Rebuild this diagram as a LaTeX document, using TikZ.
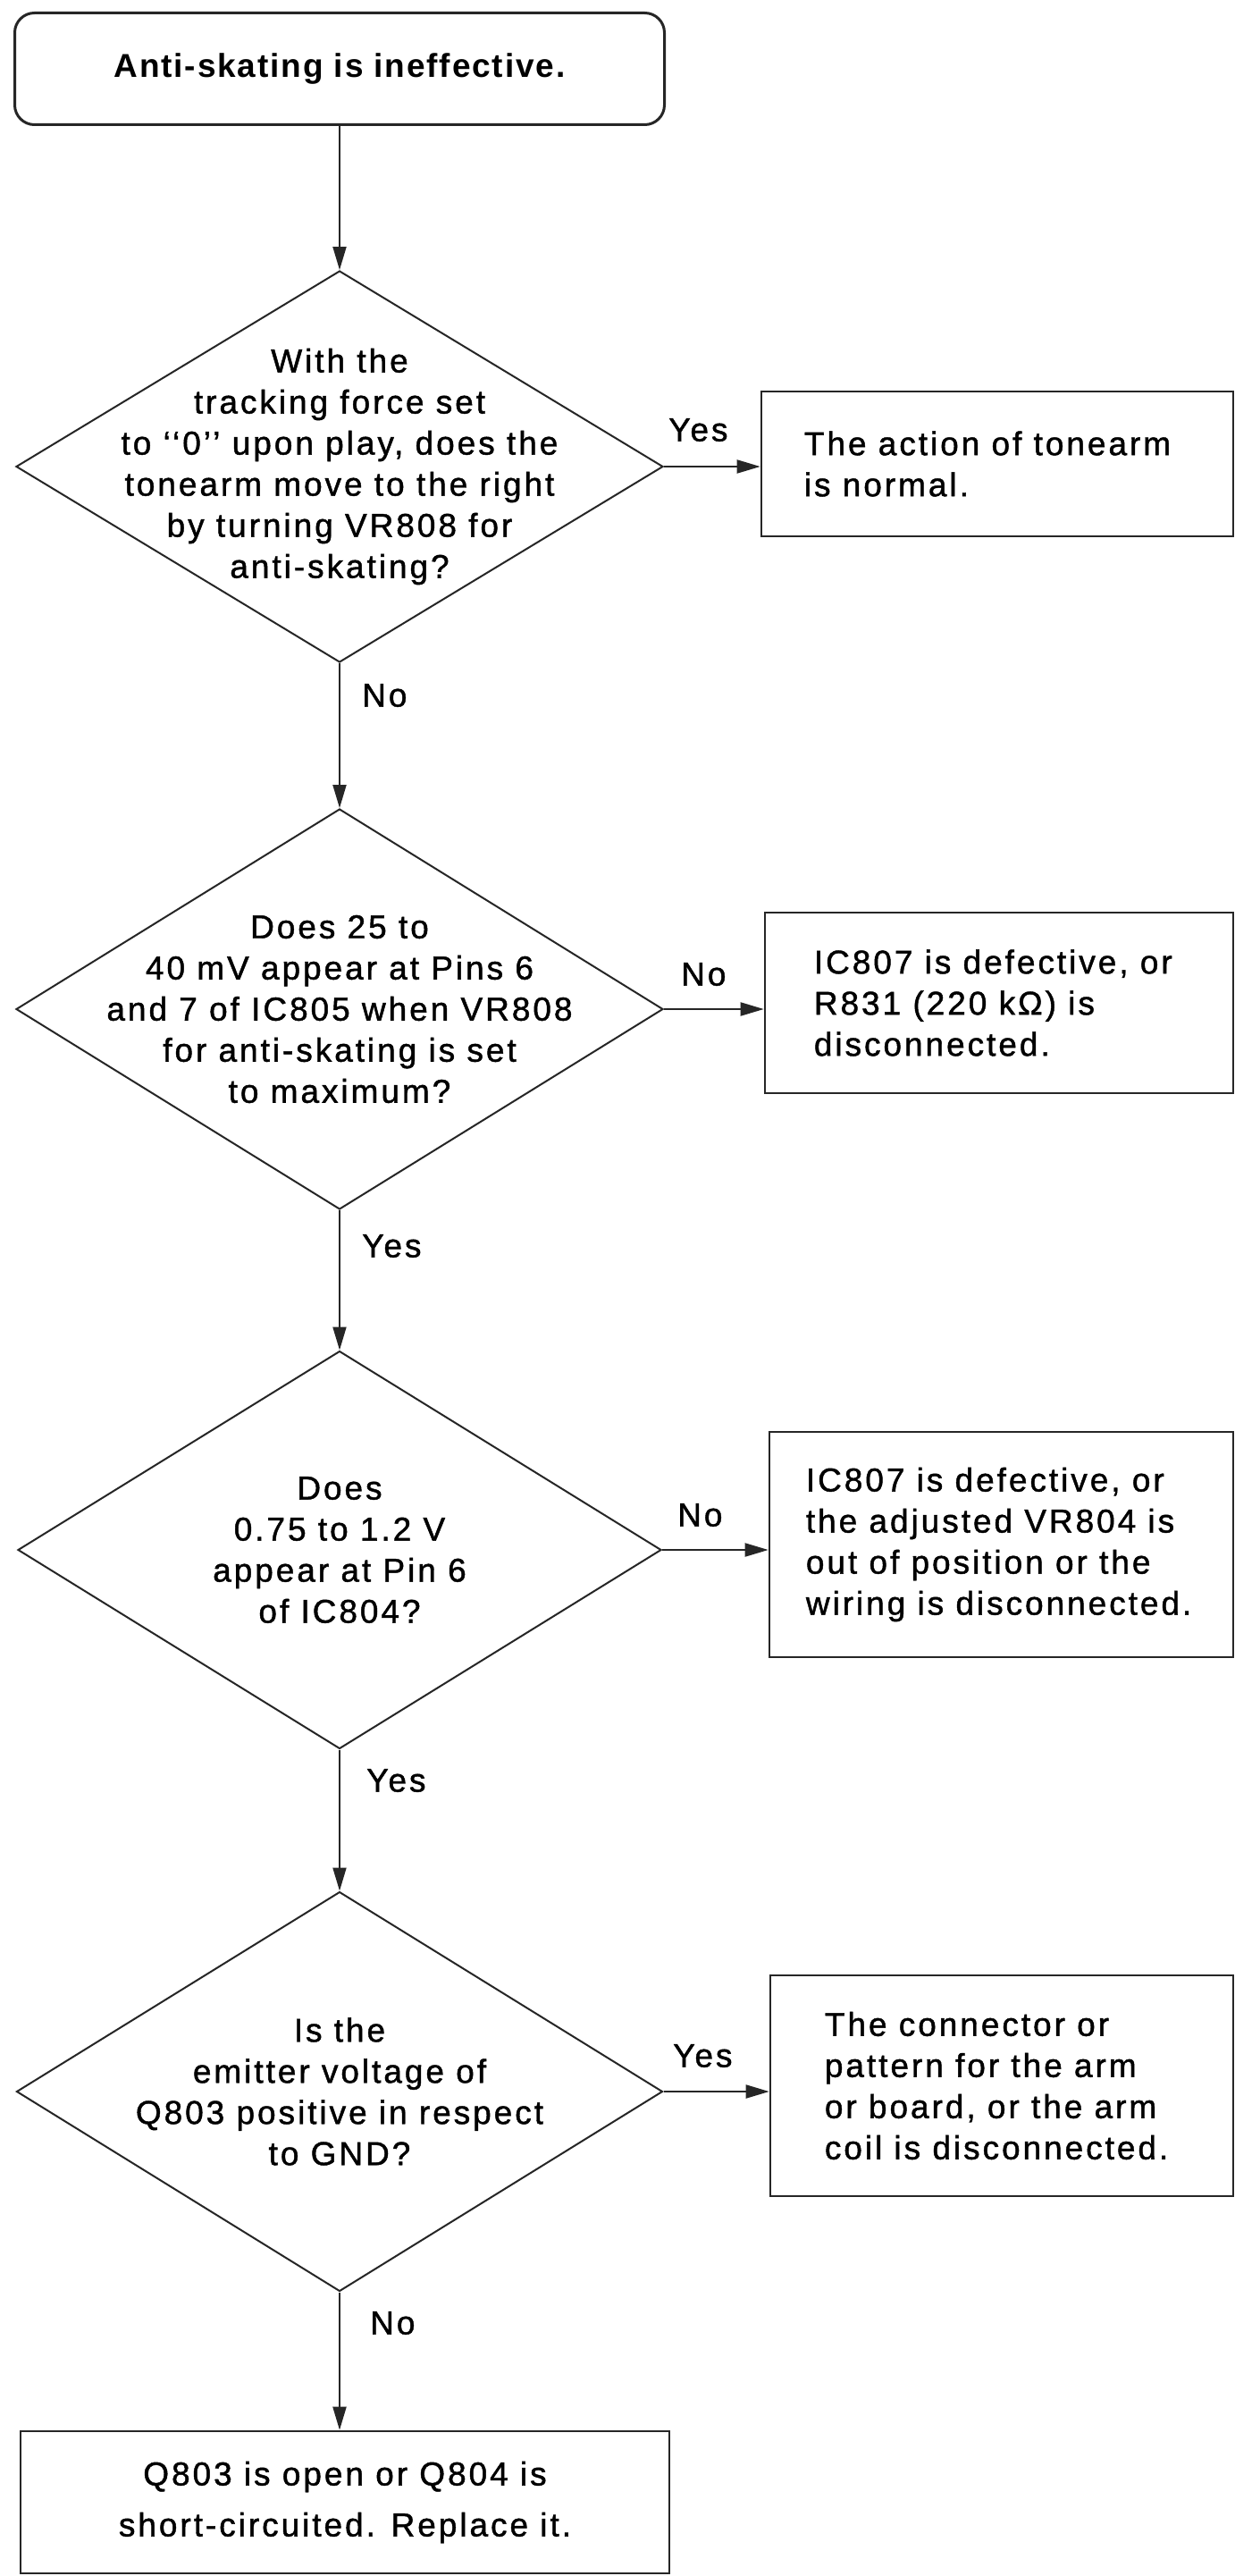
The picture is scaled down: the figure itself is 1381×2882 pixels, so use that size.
\documentclass[tikz,border=0pt]{standalone}
\usepackage{fontspec}
\setmainfont[LetterSpace=8,FakeBold=1.2]{Liberation Sans}
\newfontfamily\titlefont[LetterSpace=5]{Liberation Sans}
\usetikzlibrary{shapes.geometric,arrows.meta}
\tikzset{
  ink/.style={draw=black!85},
  txt/.style={inner sep=0pt, text=black, font=\fontsize{37}{46}\selectfont},
  qtext/.style={txt, align=center},
  btext/.style={txt, align=left, font=\fontsize{37}{46}\selectfont},
  decision/.style={ink, shape=diamond, line width=2pt, inner sep=0pt},
  rbox/.style={ink, rectangle, line width=2.6pt, inner sep=0pt},
  startbox/.style={ink, rectangle, rounded corners=22pt, line width=3pt, inner sep=0pt},
  conn/.style={draw=black!85, line width=2pt, -{Triangle[length=26pt,width=15pt]}},
  lbl/.style={txt, anchor=west}
}
\begin{document}
\begin{tikzpicture}[x=1pt,y=-1pt]
\useasboundingbox (0,0) rectangle (1381,2882);

% start
\node[startbox, minimum width=727, minimum height=125] (s) at (380,77) {};
\node[txt] (st) at (s.center) {\titlefont\bfseries Anti-skating is ineffective.};

% decision 1
\node[decision, minimum width=724, minimum height=438] (d1) at (380,522) {};
\node[qtext] (d1t) at (d1.center) {With the\\tracking force set\\to ‘‘0’’ upon play, does the\\tonearm move to the right\\by turning VR808 for\\anti-skating?};
\node[rbox, minimum width=528, minimum height=162] (b1) at (1116,519) {};
\node[btext, anchor=west] (b1t) at ([xshift=49pt]b1.west) {The action of tonearm\\is normal.};

% decision 2
\node[decision, minimum width=724, minimum height=448] (d2) at (380,1129) {};
\node[qtext] (d2t) at (d2.center) {Does 25 to\\40 mV appear at Pins 6\\and 7 of IC805 when VR808\\for anti-skating is set\\to maximum?};
\node[rbox, minimum width=524, minimum height=202] (b2) at (1118,1122) {};
\node[btext, anchor=west] (b2t) at ([xshift=56pt]b2.west) {IC807 is defective, or\\R831 (220 kΩ) is\\disconnected.};

% decision 3
\node[decision, minimum width=720, minimum height=445] (d3) at (380,1734) {};
\node[qtext] (d3t) at (d3.center) {Does\\0.75 to 1.2 V\\appear at Pin 6\\of IC804?};
\node[rbox, minimum width=519, minimum height=252] (b3) at (1120.5,1728) {};
\node[btext, anchor=west] (b3t) at ([xshift=42pt]b3.west) {IC807 is defective, or\\the adjusted VR804 is\\out of position or the\\wiring is disconnected.};

% decision 4
\node[decision, minimum width=723, minimum height=447] (d4) at (380,2340) {};
\node[qtext] (d4t) at (d4.center) {Is the\\emitter voltage of\\Q803 positive in respect\\to GND?};
\node[rbox, minimum width=518, minimum height=247] (b4) at (1121,2333.5) {};
\node[btext, anchor=west] (b4t) at ([xshift=62pt]b4.west) {The connector or\\pattern for the arm\\or board, or the arm\\coil is disconnected.};

% end box
\node[rbox, minimum width=726, minimum height=159] (b5) at (386,2799.5) {};
\node[qtext, font=\fontsize{37}{57}\selectfont] (b5t) at (b5.center) {Q803 is open or Q804 is\\short-circuited. Replace it.};

% connectors
\draw[conn] (s.south) -- (d1.north);
\draw[conn] (d1.east) -- (d1.east -| b1.west);
\draw[conn] (d1.south) -- (d2.north);
\draw[conn] (d2.east) -- (d2.east -| b2.west);
\draw[conn] (d2.south) -- (d3.north);
\draw[conn] (d3.east) -- (d3.east -| b3.west);
\draw[conn] (d3.south) -- (d4.north);
\draw[conn] (d4.east) -- (d4.east -| b4.west);
\draw[conn] (d4.south) -- (d4.south |- b5.north);

% labels
\node[lbl] (l1) at (748,481) {Yes};
\node[lbl] (l2) at (405,778) {No};
\node[lbl] (l3) at (762,1090) {No};
\node[lbl] (l4) at (405,1394) {Yes};
\node[lbl] (l5) at (758,1695) {No};
\node[lbl] (l6) at (410,1992) {Yes};
\node[lbl] (l7) at (753,2300) {Yes};
\node[lbl] (l8) at (414,2599) {No};
\end{tikzpicture}
\end{document}
